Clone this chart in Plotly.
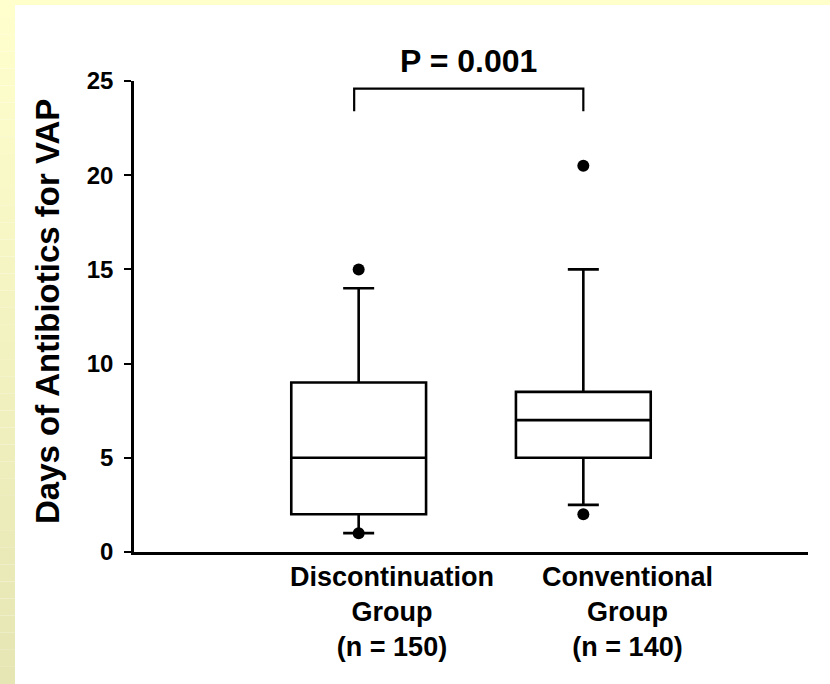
import plotly.graph_objects as go

# ---- data ----
group_labels = ["Discontinuation<br>Group<br>(n = 150)", "Conventional<br>Group<br>(n = 140)"]
positions = [1, 2]
q1 = [2, 5]
median = [5, 7]
q3 = [9, 8.5]
lower_whisker = [1, 2.5]
upper_whisker = [14, 15]
outlier_x = [1, 1, 2, 2]
outlier_y = [15, 1, 20.5, 2]
y_ticks = [0, 5, 10, 15, 20, 25]
p_text = "P = 0.001"

W, H = 830, 684
ML, MR, MT, MB = 134, 22, 81, 132
PW, PH = W - ML - MR, H - MT - MB
FONT = "Liberation Sans, Arial, sans-serif"


def px_x(p):
    return (p - ML) / PW


def px_y(p):
    return (H - MB - p) / PH


fig = go.Figure()
for i in range(len(positions)):
    fig.add_trace(go.Box(
        x=[positions[i]], q1=[q1[i]], median=[median[i]], q3=[q3[i]],
        lowerfence=[lower_whisker[i]], upperfence=[upper_whisker[i]],
        width=0.6, whiskerwidth=0.23, fillcolor="white",
        line=dict(color="black", width=2.6), boxpoints=False,
        showlegend=False, hoverinfo="skip",
    ))

fig.add_trace(go.Scatter(
    x=outlier_x, y=outlier_y, mode="markers",
    marker=dict(color="black", size=12), showlegend=False, cliponaxis=False,
))

shapes = []
# decorative yellow frame
shapes.append(dict(type="rect", xref="paper", yref="paper", x0=px_x(0), x1=px_x(W),
                   y0=px_y(5), y1=px_y(0), fillcolor="#FFFFCC", line=dict(width=0), layer="below"))
nb = 40
for k in range(nb):
    t = k / (nb - 1)
    r = round(255 - 25 * t)
    b = round(205 - 25 * t)
    shapes.append(dict(type="rect", xref="paper", yref="paper", x0=px_x(0), x1=px_x(15),
                       y0=px_y(H * (k + 1) / nb), y1=px_y(H * k / nb),
                       fillcolor=f"rgb({r},{r},{b})", line=dict(width=0), layer="below"))
# significance bracket
shapes.append(dict(type="path", xref="x", yref="y",
                   path="M 0.98 23.4 L 0.98 24.6 L 2.0 24.6 L 2.0 23.4",
                   line=dict(color="black", width=2.2)))

annotations = []
annotations.append(dict(x=1.49, y=px_y(61), xref="x", yref="paper", text=p_text, showarrow=False,
                        font=dict(family=FONT, size=32, color="black", weight="bold"),
                        xanchor="center", yanchor="middle"))
annotations.append(dict(x=px_x(47), y=px_y(312), xref="paper", yref="paper",
                        text="Days of Antibiotics for VAP", textangle=-90, showarrow=False,
                        font=dict(family=FONT, size=33, color="black", weight="bold"),
                        xanchor="center", yanchor="middle"))
shifts = [33, 44]
for i in range(len(positions)):
    annotations.append(dict(x=positions[i], y=px_y(612), xref="x", yref="paper",
                            xshift=shifts[i], text=group_labels[i], showarrow=False,
                            font=dict(family=FONT, size=27, color="black", weight="bold"),
                            xanchor="center", yanchor="middle", align="center"))

fig.update_layout(
    width=W, height=H, margin=dict(l=ML, r=MR, t=MT, b=MB),
    paper_bgcolor="white", plot_bgcolor="rgba(0,0,0,0)",
    shapes=shapes, annotations=annotations, showlegend=False,
    xaxis=dict(range=[0, 3], showline=True, linecolor="black", linewidth=2.6,
               showgrid=False, zeroline=False, showticklabels=False, ticks=""),
    yaxis=dict(range=[0, 25], tickvals=y_ticks, showline=True, linecolor="black", linewidth=2.6,
               showgrid=False, zeroline=False, ticks="outside", ticklen=7, tickwidth=2,
               tickcolor="black", ticklabelstandoff=6,
               tickfont=dict(family=FONT, size=24, color="black", weight="bold")),
)

fig.write_html("out.html", config={"displayModeBar": False},
               post_script="document.body.style.margin='0';document.body.style.overflow='hidden';")
